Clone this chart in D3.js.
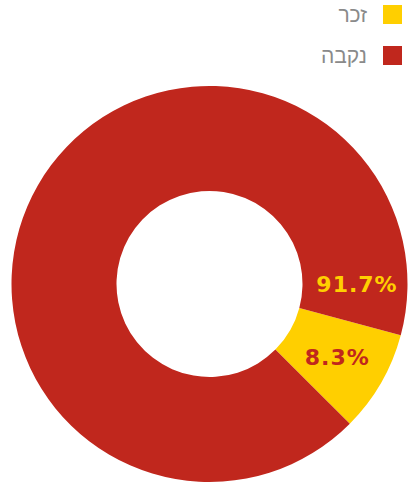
<!DOCTYPE html>
<html>
<head>
<meta charset="utf-8">
<script src="https://cdn.jsdelivr.net/npm/d3@7"></script>
<style>
  body { margin: 0; background: #fff; }
  svg { display: block; }
</style>
</head>
<body>
<svg id="chart" width="414" height="483"></svg>
<script>
// data
const categories = ["זכר", "נקבה"];
const values = [8.3, 91.7];
const colors = ["#ffcf00", "#c0271d"];
const labelColors = ["#c0271d", "#ffcf00"];

const svg = d3.select("#chart");
const cx = 209.5, cy = 284;
const outerR = 198, innerR = 93;

const start = (105 * Math.PI) / 180;
const pie = d3
  .pie()
  .sort(null)
  .startAngle(start)
  .endAngle(start + 2 * Math.PI);

const arcs = pie(values);
const arc = d3.arc().innerRadius(innerR).outerRadius(outerR);

const g = svg.append("g").attr("transform", `translate(${cx},${cy})`);

g.selectAll("path")
  .data(arcs)
  .enter()
  .append("path")
  .attr("d", arc)
  .attr("fill", (d, i) => colors[i]);

// labels sit 15deg back from each slice end (or at centroid for small slices)
const midR = (innerR + outerR) / 2 + 2;
const labelAngle = (d) =>
  d.endAngle - Math.min((d.endAngle - d.startAngle) / 2, Math.PI / 12);

g.selectAll("text")
  .data(arcs)
  .enter()
  .append("text")
  .attr("x", (d) => Math.sin(labelAngle(d)) * midR)
  .attr("y", (d) => -Math.cos(labelAngle(d)) * midR)
  .attr("text-anchor", "middle")
  .attr("dominant-baseline", "central")
  .attr("font-family", "DejaVu Sans")
  .attr("font-weight", "bold")
  .attr("font-size", 22)
  .attr("letter-spacing", 1)
  .attr("fill", (d, i) => labelColors[i])
  .text((d) => d.data.toFixed(1) + "%");

// legend
const legend = svg
  .selectAll(".legend")
  .data(categories)
  .enter()
  .append("g")
  .attr("class", "legend")
  .attr("transform", (d, i) => `translate(383,${5 + i * 41})`);

legend
  .append("rect")
  .attr("width", 19)
  .attr("height", 19)
  .attr("fill", (d, i) => colors[i]);

legend
  .append("text")
  .attr("x", -16)
  .attr("y", 17)
  .attr("text-anchor", "end")
  .attr("font-family", "Liberation Sans")
  .attr("font-size", 21)
  .attr("fill", "#8a8a8a")
  .text((d) => d);
</script>
</body>
</html>
